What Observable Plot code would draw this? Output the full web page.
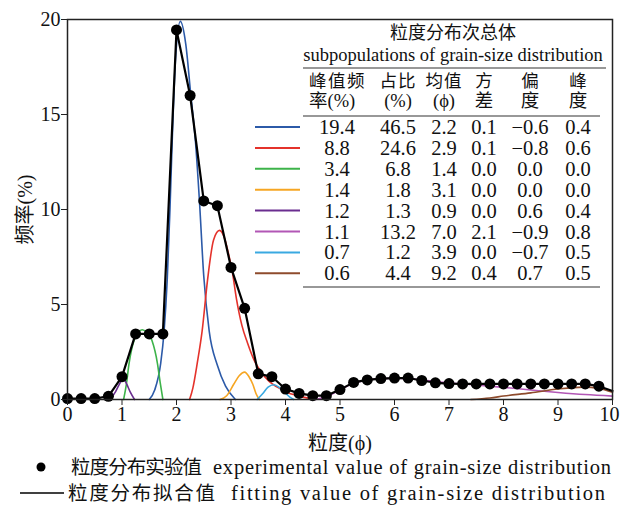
<!DOCTYPE html>
<html><head><meta charset="utf-8">
<script src="https://cdn.jsdelivr.net/npm/d3@7"></script>
<script src="https://cdn.jsdelivr.net/npm/@observablehq/plot@0.6"></script>
<style>
body{margin:0;background:#fff;font-family:'Liberation Serif','Noto Sans CJK SC',serif;color:#111}
#wrap{width:620px;height:512px;overflow:hidden}
svg{display:block}
</style></head>
<body><div id="wrap"><div id="chart"></div><div id="legend"></div></div>
<script>
// ---- data ----
const xTicks = [0,1,2,3,4,5,6,7,8,9,10];
const yTicks = [0,5,10,15,20];
const expPhi = [0,0.25,0.5,0.75,1,1.25,1.5,1.75,2,2.25,2.5,2.75,3,3.25,3.5,3.75,4,4.25,4.5,4.75,5,5.25,5.5,5.75,6,6.25,6.5,6.75,7,7.25,7.5,7.75,8,8.25,8.5,8.75,9,9.25,9.5,9.75];
const expFreq = [0.05,0.05,0.05,0.17,1.2,3.45,3.45,3.45,19.45,16.0,10.45,10.2,6.95,4.8,1.35,1.2,0.55,0.32,0.2,0.2,0.52,0.9,1.03,1.1,1.13,1.13,1.0,0.88,0.84,0.82,0.82,0.82,0.82,0.82,0.82,0.82,0.82,0.82,0.82,0.7];
const fitPhi = [0,0.25,0.5,0.75,1,1.25,1.5,1.75,2,2.25,2.5,2.75,3,3.25,3.5,3.75,4,4.25,4.5,4.75,5,5.25,5.5,5.75,6,6.25,6.5,6.75,7,7.25,7.5,7.75,8,8.25,8.5,8.75,9,9.25,9.5,9.75,10];
const fitFreq = [0.05,0.05,0.05,0.17,1.2,3.45,3.45,3.45,19.45,16.0,10.45,10.2,6.95,4.8,1.35,1.2,0.55,0.32,0.2,0.2,0.52,0.9,1.03,1.1,1.13,1.13,1.0,0.88,0.84,0.82,0.82,0.82,0.82,0.82,0.82,0.82,0.82,0.82,0.82,0.7,0.45];

const compColors = ["#2c5aa8","#e4322b","#3db34a","#f6a623","#6a2d8f","#b257b5","#3aa9e1","#8e4b2c"];
const compPeak  = [19.4,8.8,3.4,1.4,1.2,1.1,0.7,0.6];
const compShare = [46.5,24.6,6.8,1.8,1.3,13.2,1.2,4.4];
const compMean  = [2.2,2.9,1.4,3.1,0.9,7.0,3.9,9.2];
const compVar   = [0.1,0.1,0.0,0.0,0.0,2.1,0.0,0.4];
const compSkew  = [-0.6,-0.8,0.0,0.0,0.6,-0.9,-0.7,0.7];
const compKurt  = [0.4,0.6,0.0,0.0,0.4,0.8,0.5,0.5];

const curveBlue = [[1.5,0],[1.6,0.5],[1.71,1.9],[1.77,3.5],[1.83,6.3],[1.88,10],[1.92,13.5],[1.98,17.8],[2.07,19.9],[2.17,18.7],[2.26,16.1],[2.35,13.5],[2.42,10.5],[2.5,6.5],[2.6,3.6],[2.75,1.8],[2.9,0.7],[3.08,0]];
const curveRed = [[2.24,0],[2.3,0.6],[2.38,1.9],[2.47,3.6],[2.57,6.3],[2.68,8.4],[2.79,8.9],[2.88,8.5],[2.96,7.6],[3.02,6.8],[3.1,5.3],[3.2,3.9],[3.3,3.0],[3.42,2.1],[3.54,1.5],[3.7,0.95],[3.85,0.65],[4.05,0.35],[4.28,0.15],[4.5,0.03]];
const curveGreen = [[1.03,0],[1.08,0.8],[1.13,1.9],[1.22,3.1],[1.3,3.55],[1.37,3.67],[1.45,3.55],[1.55,3.1],[1.65,1.9],[1.7,0.9],[1.75,0]];
const curveOrange = [[2.8,0],[2.92,0.2],[3.05,0.8],[3.15,1.25],[3.25,1.44],[3.33,1.2],[3.4,0.8],[3.46,0.3],[3.52,0]];
const curvePurple = [[0.78,0],[0.88,0.4],[0.96,0.85],[1.02,1.1],[1.08,0.85],[1.15,0.4],[1.23,0]];
const curveMagenta = [[4.55,0],[4.75,0.15],[5.0,0.5],[5.25,0.85],[5.5,1.02],[5.75,1.1],[6.0,1.12],[6.25,1.1],[6.5,1.03],[7.0,0.88],[7.5,0.76],[8.0,0.64],[8.5,0.5],[9.0,0.37],[9.5,0.26],[10,0.18]];
const curveSky = [[3.48,0],[3.58,0.3],[3.68,0.65],[3.79,0.78],[3.9,0.6],[4.0,0.35],[4.08,0.12],[4.15,0]];
const curveBrown = [[7.4,0],[7.75,0.08],[8.0,0.18],[8.5,0.35],[9.0,0.55],[9.47,0.65],[9.75,0.58],[10,0.38]];
const compCurves = [curveBlue,curveRed,curveGreen,curveOrange,curvePurple,curveMagenta,curveSky,curveBrown];

const tableTitle = "粒度分布次总体";
const tableSubtitle = "subpopulations of grain-size distribution";
const colHead1 = ["峰值频","占比","均值","方","偏","峰"];
const colHead2 = ["率(%)","(%)","(ϕ)","差","度","度"];
const xLabel = "粒度(ϕ)";
const yLabel = "频率(%)";
const legendExp = ["粒度分布实验值","experimental value of grain-size distribution"];
const legendFit = ["粒度分布拟合值","fitting value of grain-size distribution"];

// ---- chart ----
const FONT = "'Liberation Serif','Noto Sans CJK SC',serif";
const fitRows = fitPhi.map((x,i)=>({x,y:fitFreq[i]}));
const expRows = expPhi.map((x,i)=>({x,y:expFreq[i]}));
const compMarks = compCurves.map((c,i)=>Plot.line(c,{x:d=>d[0],y:d=>d[1],stroke:compColors[i],strokeWidth:1.6,curve:"monotone-x"}));

const chart = Plot.plot({
  width:620, height:455,
  marginTop:19, marginLeft:67, marginRight:8, marginBottom:56,
  style:`font-family:${FONT};font-size:20px;color:#111;background:#fff;overflow:visible`,
  x:{domain:[0,10]},
  y:{domain:[0,20]},
  marks:[
    ...compMarks,
    Plot.line(fitRows,{x:"x",y:"y",stroke:"#000",strokeWidth:2.2}),
    Plot.dot(expRows,{x:"x",y:"y",r:5.5,fill:"#000"}),
    Plot.frame({stroke:"#222",strokeWidth:1.5}),
    Plot.axisX({ticks:xTicks,tickSize:6,tickPadding:1,fontSize:20,fontFamily:FONT,label:xLabel,labelAnchor:"center",labelArrow:"none",labelOffset:50,stroke:"#222"}),
    Plot.axisY({ticks:yTicks,tickSize:6,tickPadding:1,fontSize:20,fontFamily:FONT,label:yLabel,labelAnchor:"center",labelArrow:"none",labelOffset:50,stroke:"#222"})
  ]
});
document.getElementById("chart").appendChild(chart);

// keep the last x tick label inside the picture, as in the reference
d3.select(chart).selectAll("g[aria-label='x-axis tick label'] text").each(function(){
  if (this.textContent==="10") d3.select(this).attr("dx","-3");
});

// ---- in-plot table ----
const svg = d3.select(chart);
const g = svg.append("g").style("font-family",FONT).attr("fill","#111");
const fmt = d3.format(".1f");
const colX = [337,398,444,484,530,578];
const rowY0 = 127, rowStep = 20.9;
const T = (x,y,s,t,anchor="middle")=>g.append("text").attr("x",x).attr("y",y).attr("text-anchor",anchor).attr("dominant-baseline","central").style("font-size",s+"px").text(t);
T(453,33,18,tableTitle);
T(453,55,18.5,tableSubtitle);
[[68,303,606],[116,303,600],[287,303,600]].forEach(([y,x1,x2])=>g.append("line").attr("x1",x1).attr("x2",x2).attr("y1",y).attr("y2",y).attr("stroke","#333").attr("stroke-width",1.2));
colHead1.forEach((t,j)=>{
  const anchor = j===0?"start":"middle";
  const x = j===0?309:colX[j];
  T(x,81,17.5,t,anchor).attr("letter-spacing",j===0?"1.5px":(t.length>1?"1px":"0"));
  T(x,101,18.5,colHead2[j],anchor);
});
const cols = [compPeak,compShare,compMean,compVar,compSkew,compKurt];
compColors.forEach((c,i)=>{
  const y = rowY0 + i*rowStep;
  g.append("line").attr("x1",255).attr("x2",300).attr("y1",y).attr("y2",y).attr("stroke",c).attr("stroke-width",2);
  cols.forEach((arr,j)=>T(colX[j],y,20.5,fmt(arr[i])));
});

// ---- legend below ----
const lg = d3.select("#legend").append("svg").attr("width",620).attr("height",57).style("font-family",FONT).attr("fill","#111");
const L = (x,y,s,len,t)=>lg.append("text").attr("x",x).attr("y",y).attr("dominant-baseline","central").style("font-size",s+"px").attr("textLength",len).attr("lengthAdjust","spacing").text(t);
lg.append("circle").attr("cx",41).attr("cy",12).attr("r",4.5).attr("fill","#000");
L(71,12,19.5,131,legendExp[0]);
L(213,12,20.5,398,legendExp[1]);
lg.append("line").attr("x1",20).attr("x2",64).attr("y1",38).attr("y2",38).attr("stroke","#000").attr("stroke-width",1.5);
L(68,38,19.5,147,legendFit[0]);
L(231,38,20.5,374,legendFit[1]);
</script></body></html>
